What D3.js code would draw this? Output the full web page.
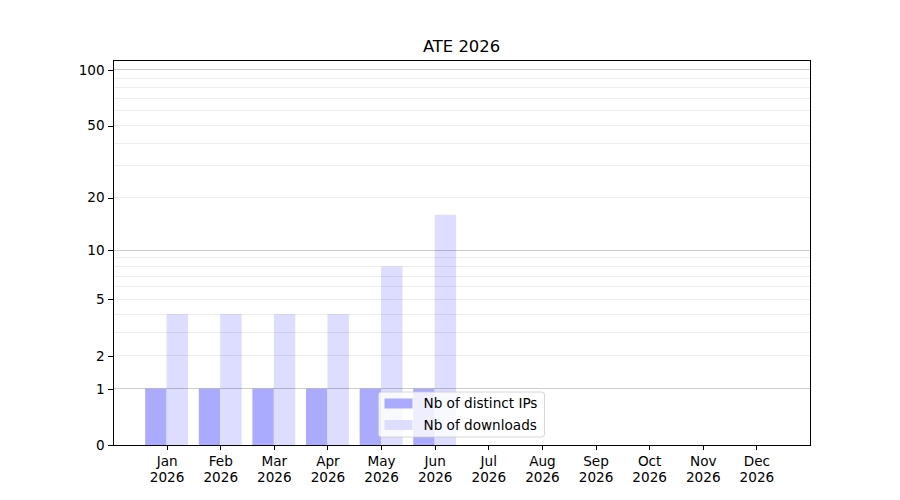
<!DOCTYPE html>
<html>
<head>
<meta charset="utf-8">
<script src="https://cdn.jsdelivr.net/npm/d3@7"></script>
<style>
  body { margin: 0; background: #fff; font-family: "DejaVu Sans", sans-serif; }
  svg text { font-family: "DejaVu Sans", sans-serif; fill: #000; }
  line, .frame { shape-rendering: crispEdges; }
</style>
</head>
<body>
<svg id="chart" width="900" height="500"></svg>
<script>
// data
const months = ["Jan", "Feb", "Mar", "Apr", "May", "Jun", "Jul", "Aug", "Sep", "Oct", "Nov", "Dec"];
const year = "2026";
const distinctIPs = [1, 1, 1, 1, 1, 1, 0, 0, 0, 0, 0, 0];
const downloads = [4, 4, 4, 4, 8, 16, 0, 0, 0, 0, 0, 0];
const yTicks = [0, 1, 2, 5, 10, 20, 50, 100];
const majorGrid = [1, 10, 100];
const minorGrid = [2, 3, 4, 5, 6, 7, 8, 9, 20, 30, 40, 50, 60, 70, 80, 90];
const seriesNames = ["Nb of distinct IPs", "Nb of downloads"];

const margin = { top: 60, right: 90, bottom: 55, left: 113 };
const width = 900, height = 500;
const svg = d3.select("#chart");
const innerW = width - margin.left - margin.right;
const innerH = height - margin.top - margin.bottom;

// x as a linear scale over category index, like matplotlib xlim [-1, 12]
const x = d3.scaleLinear().domain([-1, 12]).range([margin.left, margin.left + innerW]);
const y = d3.scaleSymlog().constant(1).domain([0, 113.2]).range([margin.top + innerH, margin.top]);

const barW = x(0.4) - x(0);
const colors = ["#aaaaff", "#ddddff"];

const body = svg.append("g");

// bars
body.selectAll(".ip").data(distinctIPs).enter().append("rect")
  .attr("x", (d, i) => x(i - 0.4))
  .attr("y", d => y(d))
  .attr("width", barW)
  .attr("height", d => y(0) - y(d))
  .attr("fill", colors[0]);

body.selectAll(".dl").data(downloads).enter().append("rect")
  .attr("x", (d, i) => x(i))
  .attr("y", d => y(d))
  .attr("width", barW)
  .attr("height", d => y(0) - y(d))
  .attr("fill", colors[1]);

// grid on top of bars
body.selectAll(".minor").data(minorGrid).enter().append("line")
  .attr("x1", margin.left).attr("x2", margin.left + innerW)
  .attr("y1", d => y(d)).attr("y2", d => y(d))
  .attr("stroke", "#000").attr("stroke-opacity", 0.07).attr("stroke-width", 1);
body.selectAll(".major").data(majorGrid).enter().append("line")
  .attr("x1", margin.left).attr("x2", margin.left + innerW)
  .attr("y1", d => y(d)).attr("y2", d => y(d))
  .attr("stroke", "#000").attr("stroke-opacity", 0.2).attr("stroke-width", 1);

// axes
const xAxis = d3.axisBottom(x).tickValues(d3.range(months.length)).tickSize(4.9).tickPadding(3).tickFormat(() => "");
const gx = svg.append("g").attr("transform", `translate(0,${margin.top + innerH})`).call(xAxis);
gx.select(".domain").remove();
gx.selectAll(".tick line").attr("stroke", "#000").attr("stroke-width", 1);
gx.selectAll(".tick").each(function (d) {
  const t = d3.select(this).append("text")
    .attr("text-anchor", "middle").style("font-size", "13.6px");
  t.append("tspan").attr("x", 0).attr("y", 21).text(months[d]);
  t.append("tspan").attr("x", 0).attr("y", 37).text(year);
});

const yAxis = d3.axisLeft(y).tickValues(yTicks).tickSize(4.9).tickPadding(3.5).tickFormat(d3.format("d"));
const gy = svg.append("g").attr("transform", `translate(${margin.left},0)`).call(yAxis);
gy.select(".domain").remove();
gy.selectAll(".tick line").attr("stroke", "#000").attr("stroke-width", 1);
gy.selectAll(".tick text").style("font-size", "13.6px").attr("fill", "#000");

// frame
svg.append("rect").attr("class", "frame")
  .attr("x", margin.left).attr("y", margin.top)
  .attr("width", innerW).attr("height", innerH)
  .attr("fill", "none").attr("stroke", "#000").attr("stroke-width", 1);

// title
svg.append("text")
  .attr("x", margin.left + innerW / 2).attr("y", 52)
  .attr("text-anchor", "middle").style("font-size", "16.4px")
  .text("ATE 2026");

// legend, lower center
const legW = 166, legH = 45;
const legX = margin.left + innerW / 2 - legW / 2;
const legY = margin.top + innerH - 8 - legH;
const leg = svg.append("g").attr("transform", `translate(${legX},${legY})`);
leg.append("rect")
  .attr("width", legW).attr("height", legH).attr("rx", 3)
  .attr("fill", "#fff").attr("fill-opacity", 0.8)
  .attr("stroke", "#cccccc").attr("stroke-width", 0.8);
seriesNames.forEach((name, i) => {
  const cy = 11.5 + i * 21.5;
  leg.append("rect")
    .attr("x", 6).attr("y", cy - 5).attr("width", 28).attr("height", 10)
    .attr("fill", colors[i]);
  leg.append("text")
    .attr("x", 45).attr("y", cy + 4.8)
    .style("font-size", "13.6px")
    .text(name);
});
</script>
</body>
</html>
